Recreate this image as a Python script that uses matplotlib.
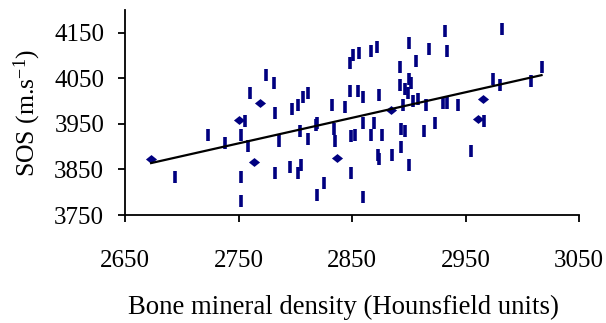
import matplotlib
matplotlib.use("Agg")
import matplotlib.pyplot as plt

# data
dash_x = [2694, 2723, 2738, 2756, 2752, 2758, 2752, 2752, 2760, 2774, 2781, 2782, 2786, 2782,
          2795, 2797, 2802, 2804, 2802, 2805, 2807, 2811, 2811, 2818, 2819, 2825, 2819, 2832,
          2834, 2835, 2844, 2848, 2848, 2849, 2849, 2851, 2853, 2855, 2856, 2860, 2860, 2860,
          2867, 2869, 2867, 2872, 2874, 2873, 2874, 2876, 2885, 2892, 2892, 2893, 2893, 2895,
          2897, 2897, 2899, 2900, 2900, 2902, 2900, 2904, 2906, 2908, 2913, 2915, 2918, 2923,
          2930, 2932, 2934, 2934, 2943, 2955, 2966, 2974, 2980, 2982, 3008, 3017]
dash_y = [3833, 3925, 3909, 3956, 3925, 3902, 3833, 3780, 4018, 4058, 4040, 3974, 3912, 3842,
          3856, 3983, 3991, 3934, 3842, 3859, 4009, 4018, 3917, 3947, 3953, 3820, 3793, 3991,
          3939, 3912, 3987, 4084, 4022, 3924, 3842, 4102, 3925, 4022, 4106, 4009, 3952, 3789,
          4110, 3952, 3925, 4119, 4013, 3881, 3873, 3925, 3881, 4075, 4035, 3939, 3899, 3991,
          3934, 4027, 4018, 4128, 4049, 4040, 3859, 4000, 4088, 4005, 3934, 3991, 4115, 3952,
          3996, 4154, 4110, 3996, 3991, 3890, 3956, 4049, 4035, 4159, 4044, 4075]
diamond_x = [2673, 2750, 2769, 2764, 2837, 2884, 2961, 2965]
diamond_y = [3874, 3959, 3996, 3866, 3875, 3980, 3961, 4005]
trend_x = [2673, 3017]
trend_y = [3864, 4057]
x_ticks = [2650, 2750, 2850, 2950, 3050]
y_ticks = [3750, 3850, 3950, 4050, 4150]

plt.rcParams['font.family'] = ['Liberation Serif', 'DejaVu Serif']
plt.rcParams['mathtext.fontset'] = 'custom'
plt.rcParams['mathtext.rm'] = 'Liberation Serif'
plt.rcParams['mathtext.it'] = 'Liberation Serif:italic'

navy = '#000080'
fig = plt.figure(figsize=(6.06, 3.23), dpi=100)
ax = fig.add_axes([125/606, 1-215/323, 454/606, 205/323])

ax.plot(dash_x, dash_y, linestyle='none', marker='|', markersize=8,
        markeredgewidth=2.6, color=navy, zorder=3)
ax.plot(diamond_x, diamond_y, linestyle='none',
        marker=[(-1, 0), (0, 0.8), (1, 0), (0, -0.8), (-1, 0)],
        markersize=8, color=navy, markeredgewidth=0, zorder=3)
ax.plot(trend_x, trend_y, color='black', linewidth=1.6, zorder=4)

ax.set_xlim(2650, 3050)
ax.set_ylim(3750, 4200)
ax.set_xticks(x_ticks)
ax.set_yticks(y_ticks)
ax.spines['top'].set_visible(False)
ax.spines['right'].set_visible(False)
for s in ['left', 'bottom']:
    ax.spines[s].set_linewidth(1.3)
ax.tick_params(axis='x', direction='out', length=5, width=1.3, labelsize=18, pad=20)
ax.tick_params(axis='y', direction='out', length=5, width=1.3, labelsize=18, pad=10)

ax.set_xlabel('Bone mineral density (Hounsfield units)', fontsize=19.3)
ax.xaxis.set_label_coords(0.481, -0.39)
ax.set_ylabel('SOS (m.s$^{\\mathregular{-1}}$)', fontsize=18.5)
ax.yaxis.set_label_coords(-0.18, 0.5)

fig.savefig('out.png', dpi=100)
